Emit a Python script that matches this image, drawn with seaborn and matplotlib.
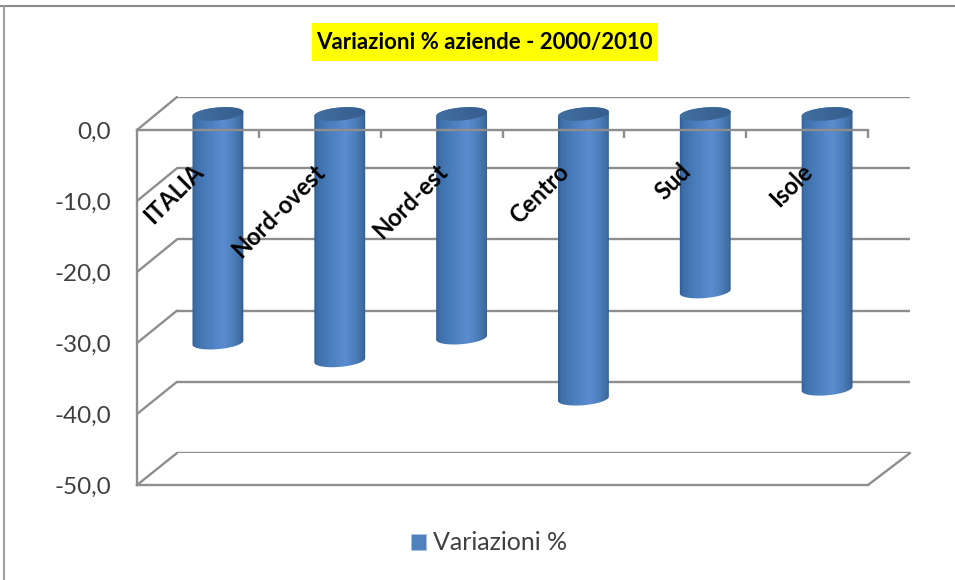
import numpy as np
import pandas as pd
import matplotlib
matplotlib.use('Agg')
import matplotlib.pyplot as plt
import seaborn as sns
from matplotlib.colors import LinearSegmentedColormap
from matplotlib.lines import Line2D
from matplotlib.patches import ConnectionPatch, Polygon, Rectangle

# Dati del grafico
categories = ['ITALIA', 'Nord-ovest', 'Nord-est', 'Centro', 'Sud', 'Isole']
values = [-32.2, -34.7, -31.5, -40.1, -25.0, -38.7]
y_ticks = [0, -10, -20, -30, -40, -50]
y_tick_labels = ['0,0', '-10,0', '-20,0', '-30,0', '-40,0', '-50,0']
series_name = 'Variazioni %'
title = 'Variazioni % aziende - 2000/2010'

GREY = '#8e8e8e'
TEXT = '#404040'
W, H = 955, 580


def place(fig, x0, x1, y_top, y_bottom, z):
    # assi posizionati in pixel dell'immagine
    a = fig.add_axes([x0 / W, 1 - y_bottom / H, (x1 - x0) / W, (y_bottom - y_top) / H])
    a.set_zorder(z)
    a.patch.set_alpha(0)
    a.set_ylim(-50, 0)
    return a


sns.set_theme(style='white')
plt.rcParams['font.family'] = ['Lato', 'DejaVu Sans']

fig = plt.figure(figsize=(W / 100, H / 100), dpi=100)

# Parete di fondo: griglia
ax_back = place(fig, 177, 910, 97, 453, 1)
ax_back.set_yticks(y_ticks)
ax_back.set_xticks([])
ax_back.set_yticklabels([])
ax_back.grid(axis='y', color=GREY, lw=1.7)
ax_back.tick_params(left=False)
sns.despine(ax=ax_back, left=True, bottom=True)

# Piano delle barre
ax = place(fig, 157, 888, 114, 469, 3)
df = pd.DataFrame({'area': categories, 'valore': values})
sns.barplot(data=df, x='area', y='valore', color='#4f81bd', width=0.419,
            label=series_name, ax=ax, legend=False, errorbar=None, zorder=2)
ax.set_xticks([])
ax.set_yticks([])
ax.set_xlabel('')
ax.set_ylabel('')
sns.despine(ax=ax, left=True, bottom=True)

# Cilindri: sfumatura e basi ellittiche
shade = LinearSegmentedColormap.from_list(
    'cyl', [(0, '#2f5b90'), (0.08, '#3f6fa9'), (0.3, '#4a7dbc'), (0.6, '#5a8cd0'),
            (0.8, '#4c7db9'), (0.93, '#3d6a9f'), (1, '#2d5380')])
top_shade = LinearSegmentedColormap.from_list('top', ['#41709f', '#3c6698', '#355c8b'])
px_x = (888 - 157) / 6
px_y = (469 - 114) / 50
tilt = np.radians(5)


def ellipse_pts(cx, cy, half_w, t):
    # ellisse inclinata, calcolata in pixel e riportata in dati
    ex = half_w * np.cos(t)
    ey = 6.5 * np.sin(t)
    dx = ex * np.cos(tilt) - ey * np.sin(tilt)
    dy = ex * np.sin(tilt) + ey * np.cos(tilt)
    return np.column_stack([cx + dx / px_x, cy + dy / px_y])


gradient = np.linspace(0, 1, 256).reshape(1, -1)
for bar, val in zip(ax.patches, values):
    cx = bar.get_x() + bar.get_width() / 2
    half = bar.get_width() / 2 * px_x
    x_ext = [bar.get_x() - 0.01, bar.get_x() + bar.get_width() + 0.01]
    upper = ellipse_pts(cx, 0, half, np.linspace(0, np.pi, 40))
    lower = ellipse_pts(cx, val, half, np.linspace(np.pi, 2 * np.pi, 40))
    body = Polygon(np.vstack([upper, lower]), closed=True, fc='none', ec='none',
                   transform=ax.transData)
    ax.add_patch(body)
    bar.set_alpha(0)
    img = ax.imshow(gradient, cmap=shade, aspect='auto', zorder=2.5,
                    extent=[x_ext[0], x_ext[1], val - 2, 2])
    img.set_clip_box(fig.bbox)
    img.set_clip_path(body)
    cap = Polygon(ellipse_pts(cx, 0, half, np.linspace(0, 2 * np.pi, 80)), closed=True,
                  fc='none', ec='none', transform=ax.transData)
    ax.add_patch(cap)
    img2 = ax.imshow(gradient, cmap=top_shade, aspect='auto', zorder=2.6,
                     extent=[x_ext[0], x_ext[1], -2, 2])
    img2.set_clip_box(fig.bbox)
    img2.set_clip_path(cap)
ax.set_xlim(-0.5, 5.5)
ax.set_ylim(-50, 0)

# Etichette di categoria ruotate sopra i cilindri
for i, name in enumerate(categories):
    ax.annotate(name, (i, 0), xytext=(-19, -33), textcoords='offset points',
                rotation=45, rotation_mode='anchor', ha='right', va='top',
                fontsize=17, fontweight='bold', color='black', zorder=5,
                annotation_clip=False)

# Piano frontale: assi, tacche ed etichette
ax_front = place(fig, 137, 868, 130, 485, 4)
ax_front.set_xlim(0, 6)
ax_front.set_yticks(y_ticks)
ax_front.set_yticklabels(y_tick_labels, fontsize=17.5, color=TEXT)
ax_front.set_xticks(range(1, 7))
ax_front.set_xticklabels([])
ax_front.xaxis.tick_top()
ax_front.tick_params(axis='y', direction='out', length=6.5, width=1.7, color=GREY, pad=12)
ax_front.tick_params(axis='x', direction='in', length=6, width=1.7, color=GREY)
for side in ['left', 'top', 'bottom']:
    ax_front.spines[side].set_color(GREY)
    ax_front.spines[side].set_linewidth(1.7)
ax_front.spines['right'].set_visible(False)

# Diagonali tra piano frontale e parete
for v in y_ticks:
    fig.add_artist(ConnectionPatch((0, v), (0, v), coordsA=ax_front.get_yaxis_transform(),
                                   coordsB=ax_back.get_yaxis_transform(),
                                   color=GREY, lw=1.7, zorder=2))
fig.add_artist(ConnectionPatch((1, -50), (1, -50), coordsA=ax_front.get_yaxis_transform(),
                               coordsB=ax_back.get_yaxis_transform(),
                               color=GREY, lw=1.7, zorder=2))

# Titolo su fondo giallo
fig.add_artist(Rectangle((312 / W, 1 - 61 / H), 346 / W, 38 / H, transform=fig.transFigure,
                         fc='#ffff00', ec='none', zorder=5))
fig.text(484 / W, 1 - 42 / H, title, ha='center', va='center', fontsize=16,
         fontweight='bold', color='black', zorder=6)

# Legenda
handles = [Rectangle((0, 0), 1, 1, fc='#4f81bd', ec='#a9c3e0', lw=0.5)]
fig.legend(handles, [series_name], loc='center', bbox_to_anchor=(489.5 / W, 1 - 543 / H),
           frameon=False, fontsize=18, labelcolor=TEXT, handlelength=0.6, handleheight=0.6,
           handletextpad=0.28, borderpad=0)

# Cornice esterna
fig.add_artist(Line2D([0, 1], [1 - 6 / H, 1 - 6 / H], color='#8a8a8a', lw=1.5, zorder=7))
fig.add_artist(Line2D([4 / W, 4 / W], [0, 1 - 6 / H], color='#a0a0a0', lw=1.5, zorder=7))

fig.savefig('out.png', dpi=100)
